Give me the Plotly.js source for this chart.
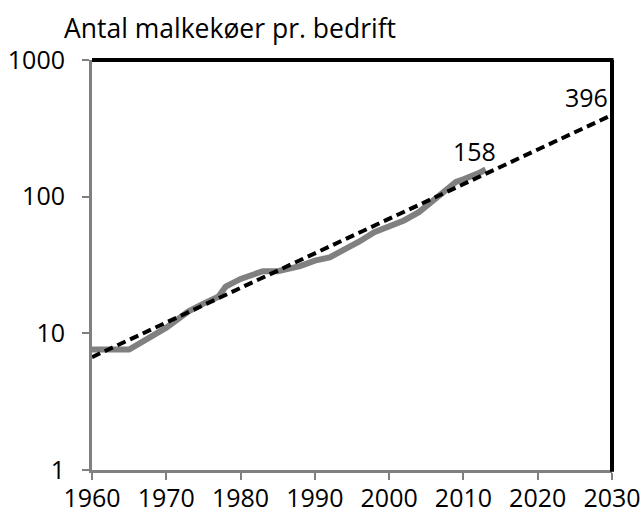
<!DOCTYPE html>
<html>
<head>
<meta charset="utf-8">
<script src="https://cdn.plot.ly/plotly-3.0.1.min.js"></script>
<style>html,body{margin:0;padding:0;background:#fff;}#chart{width:643px;height:514px;}</style>
</head>
<body>
<div id="chart"></div>
<script>
// Actual number of dairy cows per farm
const years = [1960, 1965, 1970, 1973, 1975, 1977, 1978, 1980, 1983, 1985, 1988, 1990, 1992, 1994, 1996, 1998, 2000, 2002, 2004, 2006, 2007, 2008, 2009, 2010, 2011, 2012, 2013];
const cows  = [7.6, 7.6, 11, 14.5, 16.5, 18.5, 22, 25, 28.5, 28.5, 31, 34, 36, 41, 47, 55, 61, 67, 77, 94, 104, 118, 128, 134, 140, 148, 158];
// Trend line endpoints
const trendYears = [1960, 2030];
const trendValues = [6.7, 396];
// Labels
const labelTexts = ["158", "396"];
const yTicks = [1, 10, 100, 1000];
const yTickText = ["1", "10", "100", "1000"];
const titleText = "Antal malkekøer pr. bedrift";

const font = {family: "Open Sans, Noto Sans, sans-serif", color: "#000"};
const fs = 25;

const traces = [
  {x: years, y: cows, type: "scatter", mode: "lines",
   line: {color: "#808080", width: 6}, hoverinfo: "skip"},
  {x: trendYears, y: trendValues, type: "scatter", mode: "lines",
   line: {color: "#000", width: 4, dash: "9px,5px"}, hoverinfo: "skip"}
];

const layout = {
  width: 643, height: 514,
  margin: {l: 92, r: 31, t: 60, b: 44},
  paper_bgcolor: "#fff", plot_bgcolor: "#fff",
  showlegend: false,
  font: Object.assign({size: fs}, font),
  xaxis: {
    range: [1960, 2030], dtick: 10, tick0: 1960,
    showgrid: false, zeroline: false,
    showline: true, linecolor: "#808080", linewidth: 3,
    ticks: "outside", ticklen: 7, tickwidth: 2, tickcolor: "#808080",
    ticklabelstandoff: -3,
    tickfont: Object.assign({size: fs}, font)
  },
  yaxis: {
    type: "log", range: [0, 3],
    tickvals: yTicks, ticktext: yTickText,
    showgrid: false, zeroline: false,
    showline: true, linecolor: "#808080", linewidth: 3,
    ticks: "outside", ticklen: 7, tickwidth: 2, tickcolor: "#808080",
    ticklabelstandoff: 12,
    tickfont: Object.assign({size: fs}, font)
  },
  shapes: [
    {type: "line", xref: "paper", yref: "paper", x0: 0, x1: 1.003, y0: 1, y1: 1, line: {color: "#000", width: 4}},
    {type: "line", xref: "paper", yref: "paper", x0: 1, x1: 1, y0: -0.004, y1: 1, line: {color: "#000", width: 4}}
  ],
  annotations: [
    {xref: "paper", yref: "paper", x: -0.058, y: 1.03, xanchor: "left", yanchor: "bottom",
     text: titleText, showarrow: false, font: Object.assign({size: 26.5}, font)},
    {x: years[years.length - 1], y: Math.log10(cows[cows.length - 1]), xanchor: "center", yanchor: "bottom",
     yshift: 0, xshift: -11, text: labelTexts[0], showarrow: false, font: Object.assign({size: fs}, font)},
    {x: trendYears[1], y: Math.log10(trendValues[1]), xanchor: "right", yanchor: "bottom",
     yshift: -1, xshift: -2, text: labelTexts[1], showarrow: false, font: Object.assign({size: fs}, font)}
  ]
};

Plotly.newPlot("chart", traces, layout, {displayModeBar: false, staticPlot: true});
</script>
</body>
</html>
